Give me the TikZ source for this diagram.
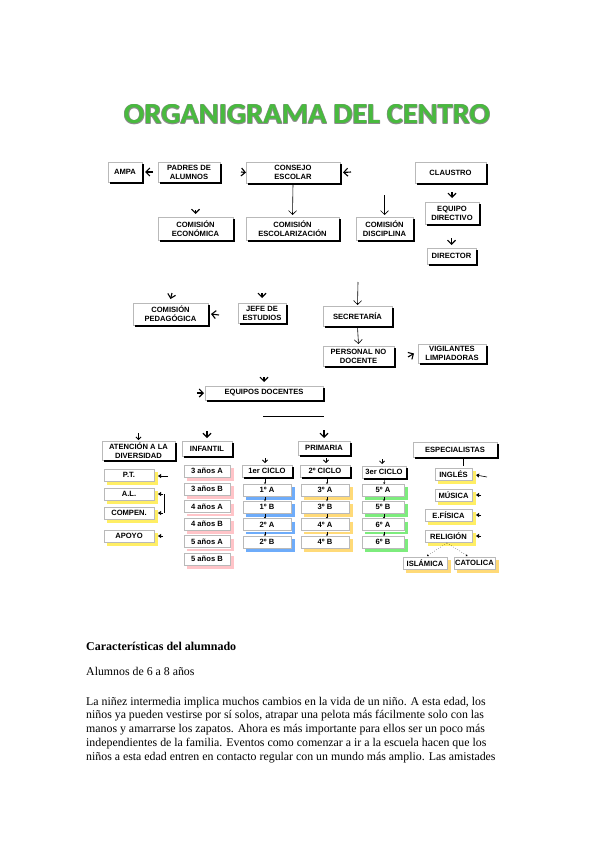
\documentclass[tikz,border=0pt]{standalone}
\usepackage{fontspec}
\setmainfont{Liberation Serif}
\newfontfamily\lsans{Liberation Sans}
\newfontfamily\tfont{Carlito}
\usetikzlibrary{arrows.meta}
\definecolor{tgreen}{RGB}{72,186,62}
\definecolor{tgray}{RGB}{140,140,140}
\definecolor{pinkS}{RGB}{255,196,200}
\definecolor{blueS}{RGB}{110,172,250}
\definecolor{yelS}{RGB}{255,238,100}
\definecolor{orS}{RGB}{255,218,120}
\definecolor{grnS}{RGB}{125,236,125}
\tikzset{
  box/.style={draw=gray!55, line width=0.5pt, inner sep=0pt, outer sep=0pt, align=center,
    font=\lsans\bfseries\fontsize{7.6}{9}\selectfont},
  bshadow/.style={draw=black, line width=2.3pt},
  cshadow/.style={draw=#1, line width=2.6pt},
  vh/.style={-{Straight Barb[length=4pt,width=8pt]}, line width=1.1pt},
  svh/.style={-{Straight Barb[length=2.5pt,width=5pt]}, line width=0.8pt},
  th/.style={-{Triangle[length=3pt,width=4pt]}, line width=0.6pt},
  tiny/.style={-{Triangle[length=1.5pt,width=2pt]}, line width=0.4pt},
  conn/.style={line width=0.6pt},
  ttl/.style={anchor=base, inner sep=0pt},
  para/.style={anchor=base west, inner sep=0pt, font=\fontsize{11.85}{13.5}\selectfont},
}
\newcommand\obox[6]{\node[box, minimum width=#4pt, minimum height=#5pt] (#1) at (#2,#3) {#6};
  \draw[bshadow] ([xshift=1pt,yshift=-2pt]#1.north east) |- ([xshift=2pt,yshift=-1pt]#1.south west);}
\newcommand\cbox[7]{\node[box, minimum width=#4pt, minimum height=#5pt] (#1) at (#2,#3) {#6};
  \draw[cshadow=#7] ([xshift=2.5pt,yshift=-3pt]#1.north east) |- ([xshift=3pt,yshift=-2.5pt]#1.south west);}
\newcommand\ttltext{\scalebox{1.045}[1]{\tfont\bfseries\fontsize{29}{29}\selectfont ORGANIGRAMA DEL CENTRO}}
\begin{document}
\begin{tikzpicture}[x=1pt,y=-1pt]
\fill[white] (0,0) rectangle (599,848);
\useasboundingbox (0,0) rectangle (599,848);
% title
\node[ttl, text=tgray] (t1) at (306.4,123.4) {\ttltext};
\node[ttl, text=tgray] (t2) at (307.6,124.6) {\ttltext};
\node[ttl, text=tgray] (t3) at (306.4,124.6) {\ttltext};
\node[ttl, text=tgray] (t4) at (307.6,123.4) {\ttltext};
\node[ttl, text=tgreen] (title) at (307,124) {\ttltext};
% row 1
\obox{ampa}{125}{172}{34}{20}{AMPA}
\obox{padres}{189}{172}{62}{20}{PADRES DE\\ALUMNOS}
\obox{consejo}{293}{172.5}{94}{21}{CONSEJO\\ESCOLAR}
\obox{claustro}{450.5}{172.5}{71}{21}{CLAUSTRO}
% row 2
\obox{econ}{195.5}{228.5}{75}{23}{COMISIÓN\\ECONÓMICA}
\obox{escol}{292.5}{228.5}{93}{23}{COMISIÓN\\ESCOLARIZACIÓN}
\obox{disc}{384.5}{228.5}{57}{23}{COMISIÓN\\DISCIPLINA}
\obox{equipo}{452}{213}{54}{22}{EQUIPO\\DIRECTIVO}
\obox{director}{451.5}{256}{49}{16}{DIRECTOR}
% row 3
\obox{ped}{170.5}{314}{75}{22}{COMISIÓN\\PEDAGÓGICA}
\obox{jefe}{262}{313}{48}{20}{JEFE DE\\ESTUDIOS}
\obox{secr}{357.5}{316}{69}{20}{SECRETARÍA}
\obox{pers}{358.5}{356}{71}{20}{PERSONAL NO\\DOCENTE}
\obox{vig}{452}{353.5}{68}{19}{VIGILANTES\\LIMPIADORAS}
\obox{eqd}{264}{393}{118}{14}{EQUIPOS DOCENTES}
% arrows upper part
\coordinate (k1) at (153,172);
\draw[vh] (k1) -- ([xshift=3pt]ampa.east);
\coordinate (k2) at (241,172);
\draw[vh] (k2) -- (consejo.west);
\coordinate (k3) at (351,172);
\draw[vh] (k3) -- ([xshift=3pt]consejo.east);
\draw[vh, line width=0.6pt] ([yshift=-1pt]consejo.south) -- ([yshift=2pt]escol.north);
\coordinate (k5) at (195.5,210);
\draw[vh] (k5) -- ([yshift=3pt]econ.north);
\coordinate (k6) at (384.5,195);
\draw[vh, line width=0.6pt] (k6) -- ([yshift=2pt]disc.north);
\coordinate (k7) at (452,192);
\draw[vh] (k7) -- ([yshift=4pt]equipo.north);
\coordinate (k8) at (451.5,238);
\draw[vh] (k8) -- ([yshift=3pt]director.north);
\coordinate (k9) at (172,293);
\draw[vh] (k9) -- ([yshift=4pt]ped.north);
\coordinate (k10) at (262,293);
\draw[vh] (k10) -- ([yshift=5pt]jefe.north);
\coordinate (k11) at (219,315);
\draw[vh] (k11) -- ([xshift=3pt]ped.east);
\coordinate (k12) at (358,282);
\draw[vh, line width=0.6pt] (k12) -- ([yshift=1pt]secr.north);
\draw[vh, line width=0.6pt] ([yshift=-1pt]secr.south) -- ([yshift=2pt]pers.north);
\coordinate (k14) at (408,357);
\draw[vh] (k14) -- ([xshift=-4pt]vig.west);
\coordinate (k15) at (264,377);
\draw[vh] (k15) -- ([yshift=4pt]eqd.north);
\coordinate (k16) at (197,393);
\draw[vh] (k16) -- ([xshift=-1pt]eqd.west);
\coordinate (s1) at (263,416);
\coordinate (s2) at (324,416);
\draw[conn] (s1) -- (s2);
% bottom headers
\obox{aten}{138.5}{450.5}{73}{19}{ATENCIÓN A LA\\DIVERSIDAD}
\obox{inf}{207}{448.5}{50}{15}{INFANTIL}
\obox{prim}{324}{448}{52}{14}{PRIMARIA}
\obox{esp}{455}{449.5}{84}{15}{ESPECIALISTAS}
\obox{c1}{267}{471}{50}{12}{1er CICLO}
\obox{c2}{325}{471}{50}{12}{2º CICLO}
\obox{c3}{384}{472}{44}{12}{3er CICLO}
\coordinate (k18) at (138.5,433);
\draw[svh] (k18) -- ([yshift=1pt]aten.north);
\coordinate (k19) at (207,431);
\draw[vh] (k19) -- ([yshift=3pt]inf.north);
\coordinate (k20) at (324,430);
\draw[vh] (k20) -- ([yshift=3pt]prim.north);
\coordinate (k21) at (265,458);
\draw[svh] (k21) -- ([xshift=-2pt,yshift=2pt]c1.north);
\coordinate (k22) at (326,458);
\draw[svh] (k22) -- ([xshift=1pt,yshift=2pt]c2.north);
\coordinate (k23) at (382,459);
\draw[svh] (k23) -- ([xshift=-2pt,yshift=2pt]c3.north);
% attention column
\cbox{pt}{129}{475}{50}{12}{P.T.}{yelS}
\cbox{al}{129}{494}{50}{12}{A.L.}{yelS}
\cbox{comp}{129}{513}{50}{12}{COMPEN.}{yelS}
\cbox{apoyo}{129}{536}{50}{12}{APOYO}{yelS}
\coordinate (k24) at (168,476);
\draw[th] (k24) -- ([xshift=4pt,yshift=-1pt]pt.east);
\coordinate (k25) at (163,494);
\draw[th] (k25) -- ([xshift=4pt]al.east);
\coordinate (k26) at (163,513);
\draw[th] (k26) -- ([xshift=4pt]comp.east);
\coordinate (k27) at (163,536);
\draw[th] (k27) -- ([xshift=4pt]apoyo.east);
\coordinate (b1) at (164.5,494);
\coordinate (b2) at (164.5,513);
\draw[conn] (b1) -- (b2);
% infantil
\cbox{i1}{207}{471}{46}{12}{3 años A}{pinkS}
\cbox{i2}{207}{489}{46}{12}{3 años B}{pinkS}
\cbox{i3}{207}{506.5}{46}{12}{4 años A}{pinkS}
\cbox{i4}{207}{524}{46}{12}{4 años B}{pinkS}
\cbox{i5}{207}{541.5}{46}{12}{5 años A}{pinkS}
\cbox{i6}{207}{559}{46}{12}{5 años B}{pinkS}
% primaria cycles
\cbox{a1}{267}{490}{48}{12}{1º A}{blueS}
\cbox{a2}{267}{507}{48}{12}{1º B}{blueS}
\cbox{a3}{267}{524.5}{48}{12}{2º A}{blueS}
\cbox{a4}{267}{542}{48}{12}{2º B}{blueS}
\cbox{b1x}{325}{490}{48}{12}{3º A}{orS}
\cbox{b2x}{325}{507}{48}{12}{3º B}{orS}
\cbox{b3x}{325}{524.5}{48}{12}{4º A}{orS}
\cbox{b4x}{325}{542}{48}{12}{4º B}{orS}
\cbox{g1}{383}{490}{42}{12}{5º A}{grnS}
\cbox{g2}{383}{507}{42}{12}{5º B}{grnS}
\cbox{g3}{383}{524.5}{42}{12}{6º A}{grnS}
\cbox{g4}{383}{542}{42}{12}{6º B}{grnS}
\foreach \u/\v in {c1/a1,a1/a2,a2/a3,a3/a4}{\draw[tiny] ([xshift=-2pt,yshift=-1pt]\u.south) -- ([xshift=-2pt]\v.north);}
\foreach \u/\v in {c2/b1x,b1x/b2x,b2x/b3x,b3x/b4x}{\draw[tiny] ([xshift=2pt,yshift=-1pt]\u.south) -- ([xshift=2pt]\v.north);}
\foreach \u/\v in {c3/g1,g1/g2,g2/g3,g3/g4}{\draw[tiny] ([xshift=1pt,yshift=-1pt]\u.south) -- ([xshift=1pt]\v.north);}
% specialists
\cbox{ing}{453.5}{474}{37}{12}{INGLÉS}{yelS}
\cbox{mus}{453.5}{495}{37}{12}{MÚSICA}{yelS}
\cbox{efi}{448.5}{515}{47}{12}{E.FÍSICA}{yelS}
\cbox{rel}{448.5}{536}{47}{12}{RELIGIÓN}{yelS}
\cbox{isl}{425}{563}{44}{12}{ISLÁMICA}{orS}
\cbox{cat}{474.5}{563}{41}{12}{CATOLICA}{orS}
\coordinate (e1) at (463,466);
\draw[conn] ([xshift=8pt,yshift=-1pt]esp.south) -- (e1);
\coordinate (k30) at (487,477);
\draw[th] (k30) -- ([xshift=4pt,yshift=-1pt]ing.east);
\coordinate (k31) at (481,495);
\draw[th] (k31) -- ([xshift=4pt]mus.east);
\coordinate (k32) at (481,515);
\draw[th] (k32) -- ([xshift=4pt]efi.east);
\coordinate (k33) at (481,536);
\draw[th] (k33) -- ([xshift=4pt]rel.east);
\draw[tiny, dotted] ([xshift=-2pt,yshift=-1pt]rel.south) -- ([xshift=2pt,yshift=1pt]isl.north);
\draw[tiny, dotted] ([xshift=-1pt,yshift=-1pt]rel.south) -- ([xshift=-7pt,yshift=1pt]cat.north);
% text
\node[para, font=\fontsize{12}{14}\selectfont\bfseries] (h1) at (86,650) {Características del alumnado};
\node[para] (h2) at (86,675) {Alumnos de 6 a 8 años};
\node[para] (p1) at (86,705) {La niñez intermedia implica muchos cambios en la vida de un niño. A esta edad, los};
\node[para] (p2) at (86,718.7) {niños ya pueden vestirse por sí solos, atrapar una pelota más fácilmente solo con las};
\node[para] (p3) at (86,732.5) {manos y amarrarse los zapatos. Ahora es más importante para ellos ser un poco más};
\node[para] (p4) at (86,746.2) {independientes de la familia. Eventos como comenzar a ir a la escuela hacen que los};
\node[para] (p5) at (86,760) {niños a esta edad entren en contacto regular con un mundo más amplio. Las amistades};
\end{tikzpicture}
\end{document}
